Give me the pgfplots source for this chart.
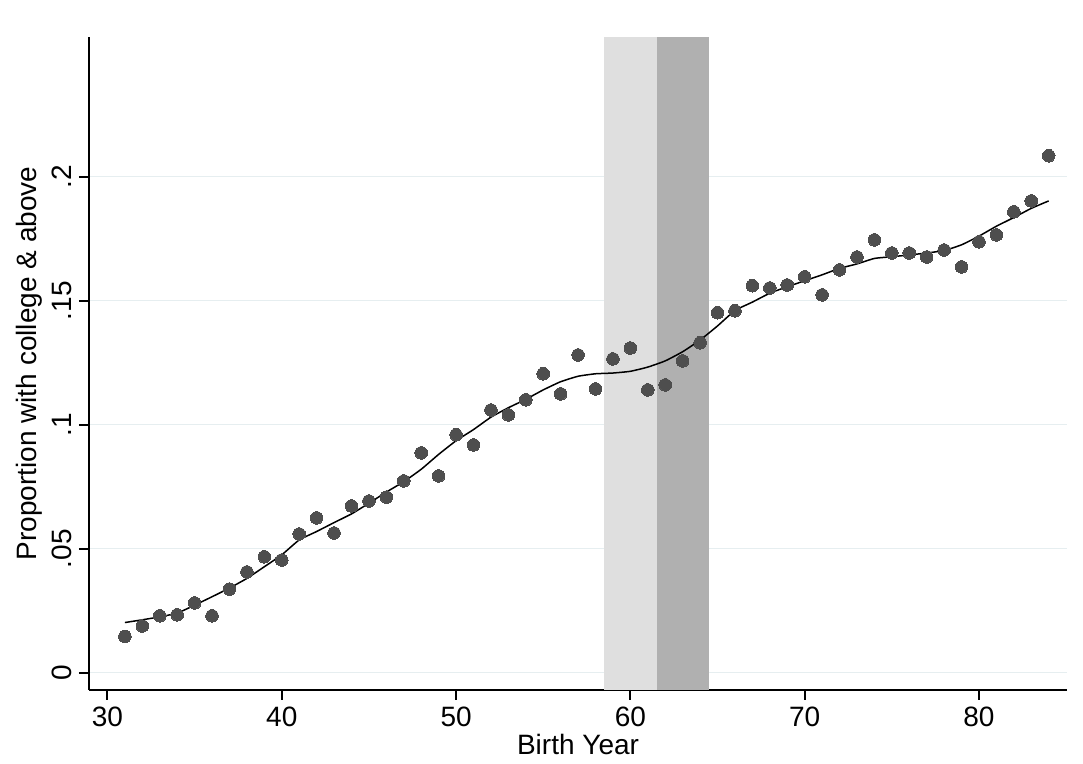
\documentclass[border=0pt]{standalone}
\usepackage{fontspec}
\setmainfont{Liberation Sans}
\usepackage{pgfplots}
\pgfplotsset{compat=1.18}
\definecolor{dotgray}{RGB}{78,78,78}
\definecolor{bandlight}{RGB}{223,223,223}
\definecolor{banddark}{RGB}{176,176,176}
\definecolor{gridc}{RGB}{230,238,240}
\pgfplotstableread{
x y
31 0.0146
32 0.0188
33 0.0229
34 0.0233
35 0.0281
36 0.0229
37 0.0337
38 0.0406
39 0.0467
40 0.0454
41 0.0559
42 0.0624
43 0.0563
44 0.0672
45 0.0692
46 0.0708
47 0.0773
48 0.0886
49 0.0793
50 0.0959
51 0.0918
52 0.1059
53 0.1039
54 0.1100
55 0.1205
56 0.1124
57 0.1281
58 0.1144
59 0.1265
60 0.1309
61 0.1140
62 0.1160
63 0.1257
64 0.1330
65 0.1451
66 0.1459
67 0.1560
68 0.1551
69 0.1563
70 0.1596
71 0.1523
72 0.1624
73 0.1676
74 0.1745
75 0.1692
76 0.1692
77 0.1676
78 0.1704
79 0.1636
80 0.1737
81 0.1765
82 0.1858
83 0.1902
84 0.2084
}\dots
\pgfplotstableread{
x y
31 0.0202
32 0.0213
33 0.0225
34 0.0240
35 0.0272
36 0.0306
37 0.0341
38 0.0380
39 0.0427
40 0.0475
41 0.0535
42 0.0569
43 0.0605
44 0.0640
45 0.0683
46 0.0728
47 0.0770
48 0.0820
49 0.0880
50 0.0935
51 0.0980
52 0.1030
53 0.1068
54 0.1102
55 0.1140
56 0.1173
57 0.1195
58 0.1205
59 0.1208
60 0.1215
61 0.1232
62 0.1257
63 0.1294
64 0.1341
65 0.1398
66 0.1460
67 0.1494
68 0.1530
69 0.1556
70 0.1580
71 0.1604
72 0.1630
73 0.1648
74 0.1670
75 0.1677
76 0.1684
77 0.1692
78 0.1702
79 0.1725
80 0.1760
81 0.1800
82 0.1835
83 0.1872
84 0.1902
}\fit
\begin{document}
\begin{tikzpicture}
\begin{axis}[
  scale only axis, width=489pt, height=326.5pt,
  xmin=28.94, xmax=85.05, ymin=-0.007, ymax=0.2563,
  axis x line*=bottom, axis y line*=left,
  axis line style={-, line width=1pt, black},
  tick style={line width=1pt, black},
  tick align=outside, major tick length=5pt,
  xtick={30,40,50,60,70,80},
  ytick={0,0.05,0.1,0.15,0.2},
  yticklabels={0,.05,.1,.15,.2},
  /pgf/number format/assume math mode=true,
  ymajorgrids, grid style={gridc, line width=0.75pt},
  every tick label/.append style={font=\fontsize{14}{16.8}\selectfont},
  yticklabel style={rotate=90, anchor=south},
  label style={font=\fontsize{14}{16.8}\selectfont},
  xlabel={Birth Year},
  ylabel={Proportion with college \& above},
  xlabel style={at={(axis description cs:0.5,-0.0576)}, anchor=north},
  ylabel style={at={(axis description cs:-0.0405,0.5)}, anchor=south},
  clip=true,
]
\addplot[fill=bandlight, draw=none] coordinates {(58.5,-0.007) (61.5,-0.007) (61.5,0.2563) (58.5,0.2563)} -- cycle;
\addplot[fill=banddark, draw=none] coordinates {(61.5,-0.007) (64.5,-0.007) (64.5,0.2563) (61.5,0.2563)} -- cycle;
\addplot[dotgray, only marks, mark=*, mark size=3.15pt, mark options={fill=dotgray, draw=dotgray, line width=0pt}] table[x=x,y=y] {\dots};
\addplot[black, line width=0.75pt, smooth, tension=0.3] table[x=x,y=y] {\fit};
\path (rel axis cs:0,0) coordinate (o);
\end{axis}
\path (o) ++(-44.5pt,-37pt) rectangle ++(541.5pt,382pt);
\end{tikzpicture}
\end{document}
